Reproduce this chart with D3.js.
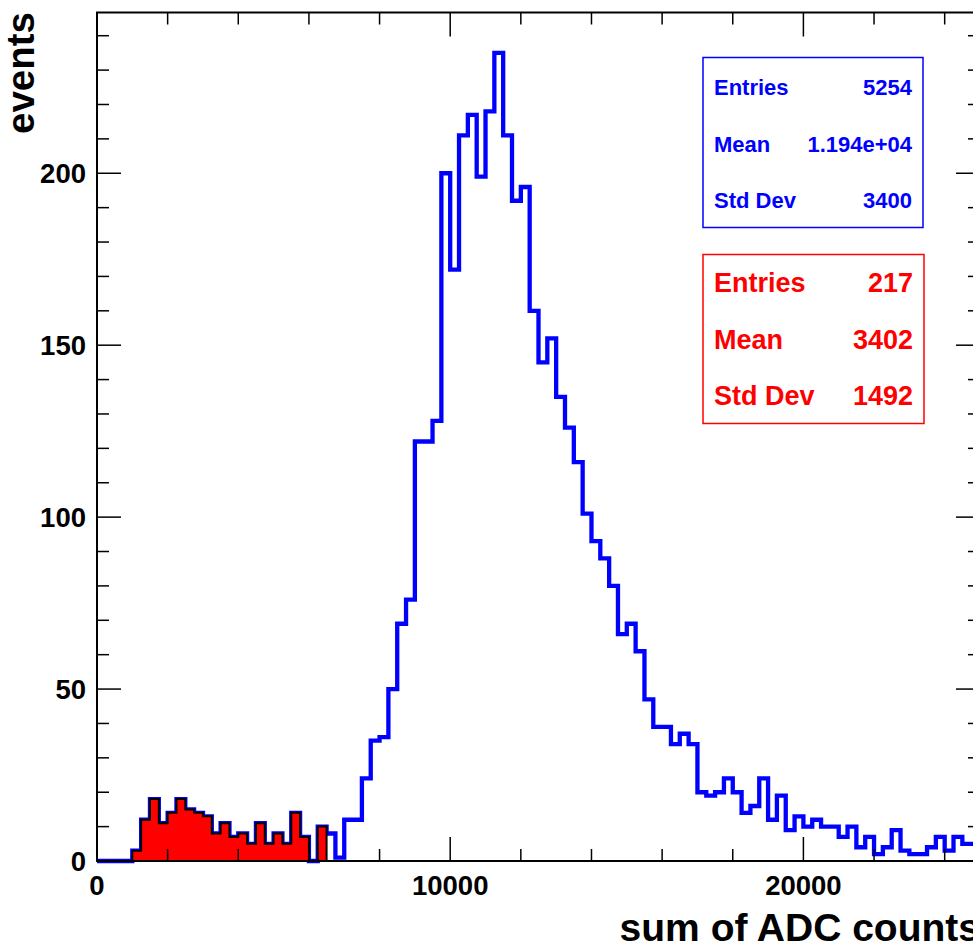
<!DOCTYPE html>
<html><head><meta charset="utf-8">
<script src="https://cdn.jsdelivr.net/npm/d3@7/dist/d3.min.js"></script>
<style>
body{margin:0;background:#fff}
svg{display:block}
text{font-family:"Liberation Sans",Arial,Helvetica,sans-serif;font-weight:bold}
</style>
</head><body>
<svg id="c" width="973" height="947"></svg>
<script>
// ---- data ----
const binWidth = 250;
const xDomain = [0, 25000];
const yMaxValue = 246.75;
const allCounts = [
  0,0,0,0,
  3,12,18,11,14,18,15,14,13,8,11,7,8,5,11,5,8,5,14,7,0,10,
  8,1,12,12,24,35,36,50,69,76,
  122,122,128,200,172,211,217,199,218,235,
  211,192,196,160,145,152,135,126,116,101,
  93,88,80,66,69,61,47,39,39,34,
  37,34,20,19,20,24,20,14,16,24,
  12,19,9,13,10,12,10,10,7,10,
  4,7,2,4,9,3,2,2,4,7,
  3,7,5,5
];
const lowCounts = [
  0,0,0,0,
  3,12,18,11,14,18,15,14,13,8,11,7,8,5,11,5,8,5,14,7,0,10
].concat(new Array(74).fill(0));
const xMajorTicks = [0, 10000, 20000];
const xMinorStep = 2000;
const yMajorTicks = [0, 50, 100, 150, 200];
const yMinorStep = 10;
const xTitle = "sum of ADC counts";
const yTitle = "events";
const blueStats = [["Entries","5254"],["Mean","1.194e+04"],["Std Dev","3400"]];
const redStats = [["Entries","217"],["Mean","3402"],["Std Dev","1492"]];

// ---- layout ----
const L = 97, R = 980, T = 12.5, B = 861;
const svg = d3.select("#c");
const x = d3.scaleLinear().domain(xDomain).range([L, R]);
const y = d3.scaleLinear().domain([0, yMaxValue]).range([B, T]);

function stepPoints(counts){
  const pts = [[0, 0]];
  counts.forEach((v, i) => {
    pts.push([i * binWidth, v]);
    pts.push([(i + 1) * binWidth, v]);
  });
  pts.push([counts.length * binWidth, 0]);
  return pts;
}
const line = d3.line().x(d => x(d[0])).y(d => y(d[1]));

// blue histogram
svg.append("path")
  .attr("d", line(stepPoints(allCounts)))
  .attr("fill", "none").attr("stroke", "#0000ff").attr("stroke-width", 4.3)
  .attr("stroke-linejoin", "miter");

// red histogram
svg.append("path")
  .attr("d", line(stepPoints(lowCounts)) + "Z")
  .attr("fill", "#ff0000").attr("stroke", "#000").attr("stroke-width", 2);

// frame
svg.append("rect").attr("x", L).attr("y", T).attr("width", R - L).attr("height", B - T)
  .attr("fill", "none").attr("stroke", "#000").attr("stroke-width", 2);

// ticks
const tk = svg.append("g").attr("stroke", "#000").attr("stroke-width", 1.5);
const xMinor = d3.range(xDomain[0], xDomain[1] + 1, xMinorStep);
xMinor.forEach(v => {
  const len = xMajorTicks.includes(v) ? 24 : 12;
  tk.append("line").attr("x1", x(v)).attr("x2", x(v)).attr("y1", B).attr("y2", B - len);
  tk.append("line").attr("x1", x(v)).attr("x2", x(v)).attr("y1", T).attr("y2", T + len);
});
const yMinor = d3.range(0, yMaxValue, yMinorStep);
yMinor.forEach(v => {
  const len = yMajorTicks.includes(v) ? 24 : 12;
  tk.append("line").attr("x1", L).attr("x2", L + len).attr("y1", y(v)).attr("y2", y(v));
  tk.append("line").attr("x1", R).attr("x2", R - len).attr("y1", y(v)).attr("y2", y(v));
});

// tick labels
svg.selectAll(".xl").data(xMajorTicks).enter().append("text")
  .attr("x", d => x(d)).attr("y", 895).attr("text-anchor", "middle")
  .attr("font-size", 27.5).text(d => d);
svg.selectAll(".yl").data(yMajorTicks).enter().append("text")
  .attr("x", 86).attr("y", d => y(d)).attr("dy", "0.36em").attr("text-anchor", "end")
  .attr("font-size", 27.5).text(d => d);

// axis titles
svg.append("text").attr("x", R).attr("y", 941).attr("text-anchor", "end")
  .attr("font-size", 39).text(xTitle);
svg.append("text").attr("transform", "translate(34,12) rotate(-90)")
  .attr("text-anchor", "end").attr("font-size", 38.5).text(yTitle);

// stats boxes
function statsBox(rows, color, x0, y0, w, h, baselines, fs){
  const g = svg.append("g");
  g.append("rect").attr("x", x0).attr("y", y0).attr("width", w).attr("height", h)
    .attr("fill", "#fff").attr("stroke", color).attr("stroke-width", 1.5);
  rows.forEach((r, i) => {
    g.append("text").attr("x", x0 + 11).attr("y", baselines[i]).attr("fill", color)
      .attr("font-size", fs).text(r[0]);
    g.append("text").attr("x", x0 + w - 11).attr("y", baselines[i]).attr("fill", color)
      .attr("text-anchor", "end").attr("font-size", fs).text(r[1]);
  });
}
statsBox(blueStats, "#0000ff", 703, 57.5, 220, 170, [94.5, 151.5, 207.5], 22);
statsBox(redStats, "#ff0000", 703, 254.5, 221, 169, [292, 349, 404.5], 27);
</script>
</body></html>
